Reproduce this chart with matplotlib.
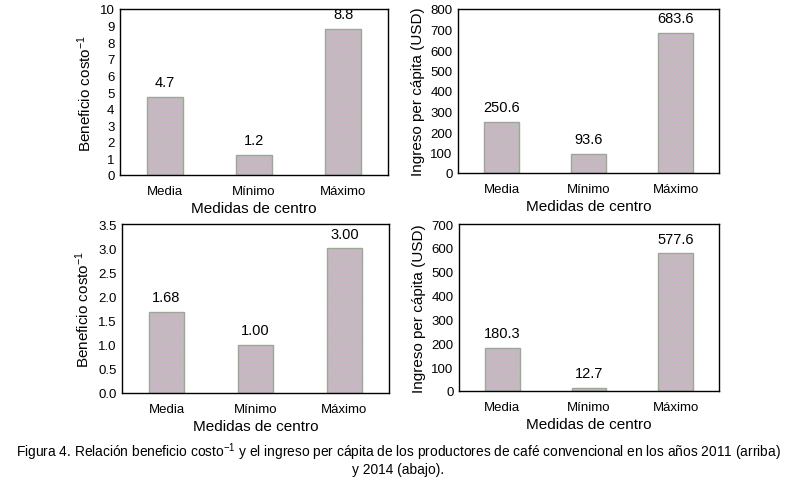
import matplotlib.pyplot as plt

plt.rcParams['font.family'] = ['Liberation Sans', 'DejaVu Sans']
plt.rcParams['mathtext.default'] = 'regular'

categories = ['Media', 'Mínimo', 'Máximo']

bc_2011 = [4.7, 1.2, 8.8]
bc_2011_labels = ['4.7', '1.2', '8.8']
ing_2011 = [250.6, 93.6, 683.6]
ing_2011_labels = ['250.6', '93.6', '683.6']

bc_2014 = [1.68, 1.00, 3.00]
bc_2014_labels = ['1.68', '1.00', '3.00']
ing_2014 = [180.3, 12.7, 577.6]
ing_2014_labels = ['180.3', '12.7', '577.6']

bc_label = 'Beneficio costo$^{-1}$'
ing_label = 'Ingreso per cápita (USD)'
x_label = 'Medidas de centro'

W, H = 797, 485
fig = plt.figure(figsize=(W / 100, H / 100), dpi=100)


def make_ax(x0, y0, x1, y1):
    # pixel box -> figure fraction
    return fig.add_axes([x0 / W, 1 - y1 / H, (x1 - x0) / W, (y1 - y0) / H])


panels = [
    (make_ax(120, 10, 388, 176), bc_2011, bc_2011_labels, bc_label, 10, 1),
    (make_ax(458, 10, 719, 174), ing_2011, ing_2011_labels, ing_label, 800, 100),
    (make_ax(122, 225, 389, 394), bc_2014, bc_2014_labels, bc_label, 3.5, 0.5),
    (make_ax(459, 225, 719, 392), ing_2014, ing_2014_labels, ing_label, 700, 100),
]

x = range(len(categories))
for ax, vals, labs, ylab, ymax, step in panels:
    # dotted pink/green fill, then a grey-green outline
    ax.bar(x, vals, width=0.4, color='#d2b0cf', edgecolor='#a9cfa0',
           hatch='.....', linewidth=0)
    ax.bar(x, vals, width=0.4, fill=False, edgecolor='#9aa898', linewidth=1)
    for xi, v, t in zip(x, vals, labs):
        ax.annotate(t, (xi, v), xytext=(0, 5.5), textcoords='offset points',
                    ha='center', va='bottom', fontsize=10.5)
    ax.set_xlim(-0.5, 2.5)
    ax.set_ylim(0, ymax)
    n = int(round(ymax / step))
    ticks = [i * step for i in range(n + 1)]
    ax.set_yticks(ticks)
    if step < 1:
        ax.set_yticklabels([f'{t:.1f}' for t in ticks])
    ax.set_xticks(list(x))
    ax.set_xticklabels(categories)
    ax.tick_params(length=0, labelsize=9.5, pad=4)
    ax.tick_params(axis='x', pad=7)
    ax.set_xlabel(x_label, fontsize=11, labelpad=3)
    ax.set_ylabel(ylab, fontsize=11, labelpad=4)
    for s in ax.spines.values():
        s.set_linewidth(1)
        s.set_color('black')

fig.text(0.5, 1 - 452 / H,
         'Figura 4. Relación beneficio costo$^{-1}$ y el ingreso per cápita de los productores de café convencional en los años 2011 (arriba)',
         ha='center', va='center', fontsize=9.9)
fig.text(0.5, 1 - 470 / H, 'y 2014 (abajo).',
         ha='center', va='center', fontsize=9.9)

fig.savefig('out.png', dpi=100)
